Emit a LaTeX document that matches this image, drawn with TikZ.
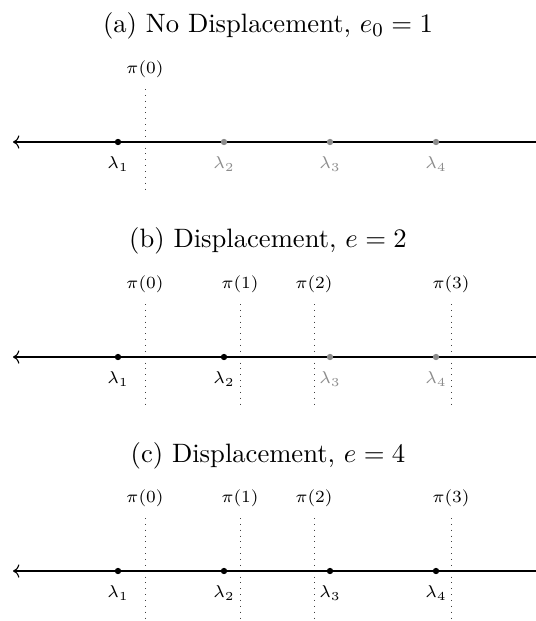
\documentclass[tikz,border=0pt]{standalone}
\usepackage{amsmath}
\usepackage{tikz}
\usetikzlibrary{arrows.meta, positioning}

\begin{document}
\begin{tikzpicture}[
        x=0.0144cm, y=-0.0144cm,
        every node/.style={font=\scriptsize},
        caption/.style={font=\fontsize{10.9}{13}\selectfont},
        line/.style={<-, line width=0.45pt},
        cut/.style={dotted, black!75},
        on/.style={circle, fill=black, inner sep=0pt, minimum size=2.6pt},
        off/.style={on, fill=black!45},
        grey/.style={text=black!45},
        node distance=1pt
    ]
        \useasboundingbox (0,0) rectangle (536,621);

        % (a)
        \node[caption] (capa) at (268,26) {(a) No Displacement, $e_0 = 1$};
        \coordinate (la) at (13,142);
        \coordinate (ra) at (536,142);
        \coordinate (a0t) at (145,89);
        \coordinate (a0b) at (145,192);
        \draw[cut] (a0t) -- (a0b);
        \node[above=of a0t] (pa0) {$\pi(0)$};
        \draw[line] (la) -- (ra);
        \node[on]  (a1) at (118,142) {};
        \node[off] (a2) at (224,142) {};
        \node[off] (a3) at (330,142) {};
        \node[off] (a4) at (436,142) {};
        \node[below=of a1] {$\lambda_1$};
        \node[below=of a2, grey] {$\lambda_2$};
        \node[below=of a3, grey] {$\lambda_3$};
        \node[below=of a4, grey] {$\lambda_4$};

        % (b)
        \node[caption] (capb) at (268,241) {(b) Displacement, $e = 2$};
        \coordinate (lb) at (13,357);
        \coordinate (rb) at (536,357);
        \coordinate (b0t) at (145,304);
        \coordinate (b0b) at (145,407);
        \coordinate (b1t) at (240,304);
        \coordinate (b1b) at (240,407);
        \coordinate (b2t) at (314,304);
        \coordinate (b2b) at (314,407);
        \coordinate (b3t) at (451,304);
        \coordinate (b3b) at (451,407);
        \draw[cut] (b0t) -- (b0b);
        \draw[cut] (b1t) -- (b1b);
        \draw[cut] (b2t) -- (b2b);
        \draw[cut] (b3t) -- (b3b);
        \node[above=of b0t] (pb0) {$\pi(0)$};
        \node[above=of b1t] (pb1) {$\pi(1)$};
        \node[above=of b2t] (pb2) {$\pi(2)$};
        \node[above=of b3t] (pb3) {$\pi(3)$};
        \draw[line] (lb) -- (rb);
        \node[on]  (b1) at (118,357) {};
        \node[on]  (b2) at (224,357) {};
        \node[off] (b3) at (330,357) {};
        \node[off] (b4) at (436,357) {};
        \node[below=of b1] {$\lambda_1$};
        \node[below=of b2] {$\lambda_2$};
        \node[below=of b3, grey] {$\lambda_3$};
        \node[below=of b4, grey] {$\lambda_4$};

        % (c)
        \node[caption] (capc) at (268,456) {(c) Displacement, $e = 4$};
        \coordinate (lc) at (13,571);
        \coordinate (rc) at (536,571);
        \coordinate (c0t) at (145,518);
        \coordinate (c0b) at (145,621);
        \coordinate (c1t) at (240,518);
        \coordinate (c1b) at (240,621);
        \coordinate (c2t) at (314,518);
        \coordinate (c2b) at (314,621);
        \coordinate (c3t) at (451,518);
        \coordinate (c3b) at (451,621);
        \draw[cut] (c0t) -- (c0b);
        \draw[cut] (c1t) -- (c1b);
        \draw[cut] (c2t) -- (c2b);
        \draw[cut] (c3t) -- (c3b);
        \node[above=of c0t] (pc0) {$\pi(0)$};
        \node[above=of c1t] (pc1) {$\pi(1)$};
        \node[above=of c2t] (pc2) {$\pi(2)$};
        \node[above=of c3t] (pc3) {$\pi(3)$};
        \draw[line] (lc) -- (rc);
        \node[on] (c1) at (118,571) {};
        \node[on] (c2) at (224,571) {};
        \node[on] (c3) at (330,571) {};
        \node[on] (c4) at (436,571) {};
        \node[below=of c1] {$\lambda_1$};
        \node[below=of c2] {$\lambda_2$};
        \node[below=of c3] {$\lambda_3$};
        \node[below=of c4] {$\lambda_4$};
    \end{tikzpicture}
\end{document}
